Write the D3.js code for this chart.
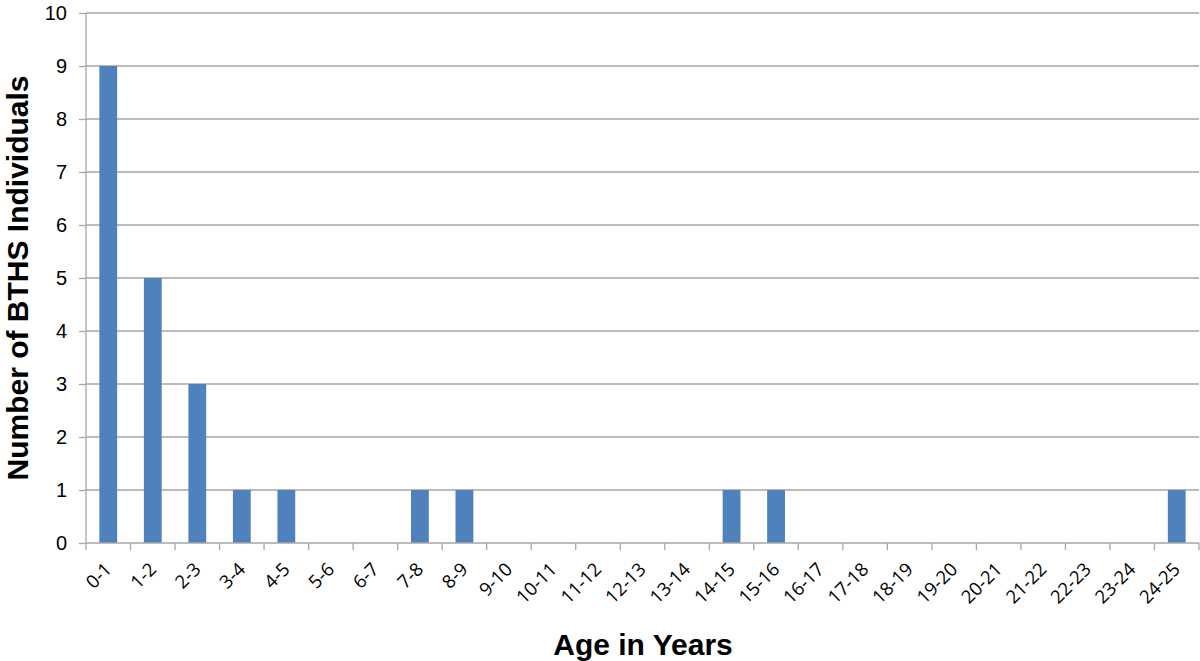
<!DOCTYPE html>
<html><head><meta charset="utf-8">
<script src="https://cdn.jsdelivr.net/npm/d3@7"></script>
<style>body{margin:0;background:#fff}svg{display:block}</style>
</head><body>
<svg id="c" width="1200" height="661"></svg>
<script>
const categories = ["0-1","1-2","2-3","3-4","4-5","5-6","6-7","7-8","8-9","9-10","10-11","11-12","12-13","13-14","14-15","15-16","16-17","17-18","18-19","19-20","20-21","21-22","22-23","23-24","24-25"];
const counts = [9,5,3,1,1,0,0,1,1,0,0,0,0,0,1,1,0,0,0,0,0,0,0,0,1];
const yTicks = [0,1,2,3,4,5,6,7,8,9,10];
const xTitle = "Age in Years";
const yTitle = "Number of BTHS Individuals";

(function(){
const svg = d3.select("#c");
const mLeft = 86, mRight = 1199, mTop = 13, mBottom = 543;
const x = d3.scaleBand().domain(categories).range([mLeft, mRight]).paddingInner(0.6).paddingOuter(0.3);
const xb = d3.scaleBand().domain(categories).range([mLeft, mRight]);
const y = d3.scaleLinear().domain([0, 10]).range([mBottom, mTop]);
const grid = "#a6a6a6";

svg.append("g").selectAll("line").data(yTicks.filter(d => d > 0)).join("line")
  .attr("x1", mLeft).attr("x2", mRight).attr("y1", d => y(d)).attr("y2", d => y(d))
  .attr("stroke", grid).attr("stroke-width", 1.3);

svg.append("g").selectAll("rect").data(categories.map((c, i) => ({c, v: counts[i]}))).join("rect")
  .attr("x", d => x(d.c)).attr("width", x.bandwidth())
  .attr("y", d => y(d.v)).attr("height", d => y(0) - y(d.v))
  .attr("fill", "#4f81bd");

const ya = svg.append("g").attr("transform", `translate(${mLeft},0)`)
  .call(d3.axisLeft(y).tickValues(yTicks).tickSize(7).tickPadding(12).tickFormat(d3.format("d")));
ya.selectAll("path,line").attr("stroke", grid).attr("stroke-width", 1.3);
ya.select("path").attr("d", `M0,${mTop}V${mBottom}`);
ya.selectAll("text").attr("font-family", "Liberation Sans, Arial, sans-serif").attr("font-size", 20).attr("fill", "#000");

const xa = svg.append("g").attr("transform", `translate(0,${mBottom})`)
  .call(d3.axisBottom(xb).tickSize(0).tickFormat(""));
xa.select("path").attr("stroke", grid).attr("stroke-width", 1.3).attr("d", `M${mLeft},0H${mRight}`);
const bounds = categories.map(c => xb(c)).concat([mRight]);
svg.append("g").selectAll("line").data(bounds).join("line")
  .attr("x1", d => d).attr("x2", d => d).attr("y1", mBottom).attr("y2", mBottom + 7)
  .attr("stroke", grid).attr("stroke-width", 1.3);
svg.append("g").selectAll("text").data(categories).join("text")
  .attr("transform", d => `translate(${xb(d) + xb.bandwidth()/2},${mBottom + 23}) rotate(-45)`)
  .attr("text-anchor", "end").attr("dy", "0.35em")
  .attr("font-family", "Open Sans, sans-serif").attr("font-size", 18.5).attr("fill", "#000")
  .text(d => d);

svg.append("text").attr("x", 643).attr("y", 655).attr("text-anchor", "middle")
  .attr("font-family", "Liberation Sans, Arial, sans-serif").attr("font-weight", "bold").attr("font-size", 30)
  .text(xTitle);
svg.append("text").attr("transform", `translate(28,278) rotate(-90)`).attr("text-anchor", "middle")
  .attr("font-family", "Liberation Sans, Arial, sans-serif").attr("font-weight", "bold").attr("font-size", 30)
  .text(yTitle);
})();
</script>
</body></html>
